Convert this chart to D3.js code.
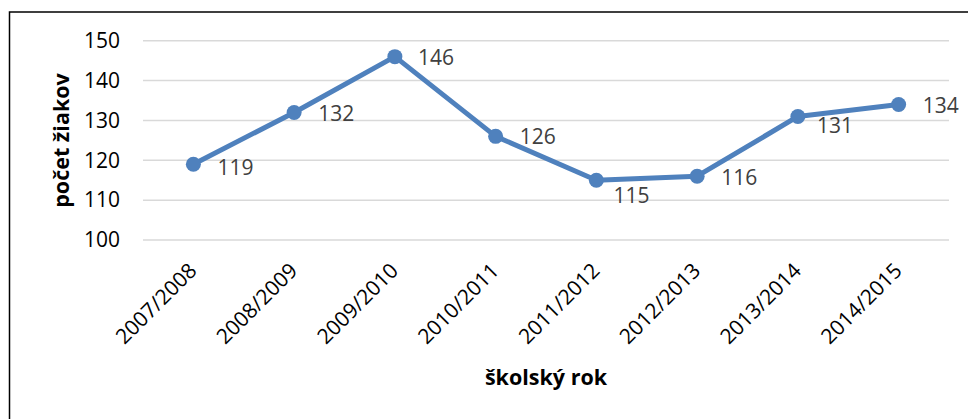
<!DOCTYPE html>
<html>
<head>
<meta charset="utf-8">
<script src="https://cdn.jsdelivr.net/npm/d3@7"></script>
<style>
  body { margin: 0; background: #fff; }
  text { font-family: "Open Sans", sans-serif; }
</style>
</head>
<body>
<div id="main"></div>
<script>
// data
var years = ["2007/2008", "2008/2009", "2009/2010", "2010/2011",
             "2011/2012", "2012/2013", "2013/2014", "2014/2015"];
var pupils = [119, 132, 146, 126, 115, 116, 131, 134];
var yTicks = [100, 110, 120, 130, 140, 150];

// label nudges (px) for the value labels, as Excel placed them
var labelDx = [24, 24, 23, 24, 17, 24, 19, 24];
var labelDy = [3, 1, 1, 0, 15, 1, 9, 1];

var W = 968, H = 419;

var svg = d3.select("#main").append("svg")
    .attr("width", W)
    .attr("height", H);

// chart border (runs off the right / bottom edge in the original)
svg.append("rect")
    .attr("x", 9.5).attr("y", 12)
    .attr("width", 980).attr("height", 430)
    .attr("fill", "none")
    .attr("stroke", "#000")
    .attr("stroke-width", 1.5);

var x = d3.scalePoint()
    .domain(years)
    .range([143, 949])
    .padding(0.5);

var y = d3.scaleLinear()
    .domain([100, 150])
    .range([240, 40.7]);

// gridlines
svg.append("g").selectAll("line")
    .data(yTicks)
    .enter().append("line")
    .attr("x1", 143).attr("x2", 949)
    .attr("y1", d => y(d)).attr("y2", d => y(d))
    .attr("stroke", "#d9d9d9")
    .attr("stroke-width", 1.5);

// y axis labels
var yAxis = d3.axisLeft(y).tickValues(yTicks).tickSize(0).tickPadding(0);
var gy = svg.append("g")
    .attr("transform", "translate(120,0)")
    .call(yAxis);
gy.select(".domain").remove();
gy.selectAll("text")
    .attr("font-family", "Open Sans")
    .attr("font-size", 21)
    .attr("fill", "#000");

// x axis labels
var xAxis = d3.axisBottom(x).tickSize(0).tickPadding(0);
var gx = svg.append("g")
    .attr("transform", "translate(0,272)")
    .call(xAxis);
gx.select(".domain").remove();
gx.selectAll("text")
    .attr("font-family", "Open Sans")
    .attr("font-size", 21)
    .attr("fill", "#000")
    .attr("text-anchor", "end")
    .attr("dy", 0)
    .attr("y", 0)
    .attr("transform", "translate(4,0) rotate(-45)");

// axis titles
svg.append("text")
    .attr("transform", "translate(69,140.5) rotate(-90)")
    .attr("text-anchor", "middle")
    .attr("font-size", 21.5)
    .attr("font-weight", "bold")
    .text("počet žiakov");

svg.append("text")
    .attr("x", 546).attr("y", 385)
    .attr("text-anchor", "middle")
    .attr("font-size", 21.5)
    .attr("font-weight", "bold")
    .text("školský rok");

// line + markers
var line = d3.line()
    .x((d, i) => x(years[i]))
    .y(d => y(d));

svg.append("path")
    .datum(pupils)
    .attr("d", line)
    .attr("fill", "none")
    .attr("stroke", "#4f81bd")
    .attr("stroke-width", 5)
    .attr("stroke-linejoin", "round");

svg.append("g").selectAll("circle")
    .data(pupils)
    .enter().append("circle")
    .attr("cx", (d, i) => x(years[i]))
    .attr("cy", d => y(d))
    .attr("r", 7.5)
    .attr("fill", "#4f81bd");

// value labels
svg.append("g").selectAll("text")
    .data(pupils)
    .enter().append("text")
    .attr("x", (d, i) => x(years[i]) + labelDx[i])
    .attr("y", (d, i) => y(d) + labelDy[i])
    .attr("dy", "0.35em")
    .attr("font-size", 21)
    .attr("fill", "#404040")
    .text(d => d);
</script>
</body>
</html>
